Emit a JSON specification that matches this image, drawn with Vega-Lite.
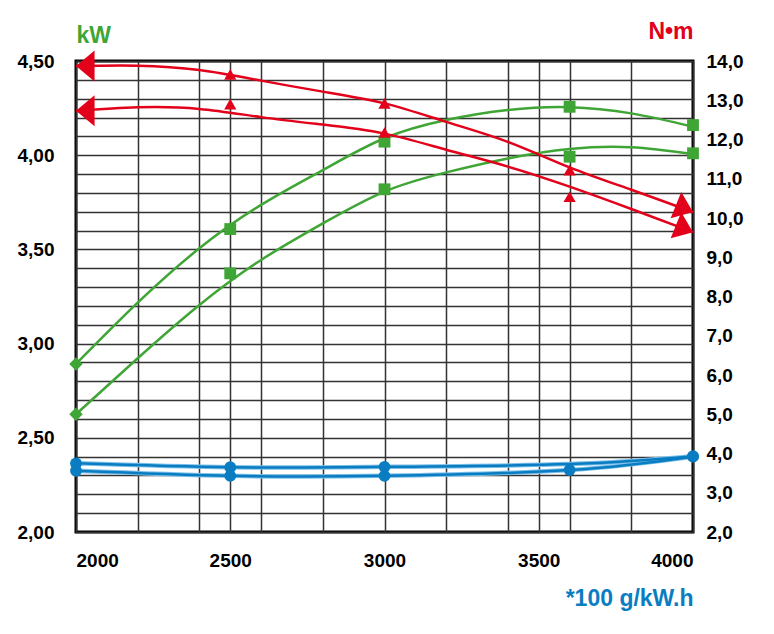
{
  "$schema": "https://vega.github.io/schema/vega-lite/v6.json",
  "width": 617,
  "height": 471,
  "autosize": "none",
  "padding": {"left": 76, "top": 61, "right": 81, "bottom": 102},
  "background": "white",
  "datasets": {
    "power_curve": [
      {"series": "P1", "rpm": 2000, "value": 2.892},
      {"series": "P1", "rpm": 2200, "value": 3.217},
      {"series": "P1", "rpm": 2400, "value": 3.506},
      {"series": "P1", "rpm": 2600, "value": 3.736},
      {"series": "P1", "rpm": 2800, "value": 3.921},
      {"series": "P1", "rpm": 3000, "value": 4.09},
      {"series": "P1", "rpm": 3200, "value": 4.187},
      {"series": "P1", "rpm": 3400, "value": 4.24},
      {"series": "P1", "rpm": 3600, "value": 4.255},
      {"series": "P1", "rpm": 3800, "value": 4.222},
      {"series": "P1", "rpm": 4000, "value": 4.151},
      {"series": "P2", "rpm": 2000, "value": 2.625},
      {"series": "P2", "rpm": 2200, "value": 2.922},
      {"series": "P2", "rpm": 2400, "value": 3.205},
      {"series": "P2", "rpm": 2600, "value": 3.444},
      {"series": "P2", "rpm": 2800, "value": 3.638},
      {"series": "P2", "rpm": 3000, "value": 3.807},
      {"series": "P2", "rpm": 3200, "value": 3.909},
      {"series": "P2", "rpm": 3400, "value": 3.983},
      {"series": "P2", "rpm": 3600, "value": 4.033},
      {"series": "P2", "rpm": 3800, "value": 4.042},
      {"series": "P2", "rpm": 4000, "value": 4.006}
    ],
    "power_points": [
      {"series": "P1", "rpm": 2000, "value": 2.892},
      {"series": "P1", "rpm": 2500, "value": 3.608},
      {"series": "P1", "rpm": 3000, "value": 4.072},
      {"series": "P1", "rpm": 3600, "value": 4.257},
      {"series": "P1", "rpm": 4000, "value": 4.16},
      {"series": "P2", "rpm": 2000, "value": 2.625},
      {"series": "P2", "rpm": 2500, "value": 3.373},
      {"series": "P2", "rpm": 3000, "value": 3.819},
      {"series": "P2", "rpm": 3600, "value": 3.992},
      {"series": "P2", "rpm": 4000, "value": 4.01}
    ],
    "torque_curve": [
      {"series": "T1", "rpm": 2000, "value": 13.87},
      {"series": "T1", "rpm": 2200, "value": 13.88},
      {"series": "T1", "rpm": 2400, "value": 13.77},
      {"series": "T1", "rpm": 2600, "value": 13.5},
      {"series": "T1", "rpm": 2800, "value": 13.22},
      {"series": "T1", "rpm": 3000, "value": 12.92},
      {"series": "T1", "rpm": 3200, "value": 12.45},
      {"series": "T1", "rpm": 3400, "value": 11.94},
      {"series": "T1", "rpm": 3600, "value": 11.29},
      {"series": "T1", "rpm": 3800, "value": 10.72},
      {"series": "T1", "rpm": 4000, "value": 10.15},
      {"series": "T2", "rpm": 2000, "value": 12.73},
      {"series": "T2", "rpm": 2200, "value": 12.82},
      {"series": "T2", "rpm": 2400, "value": 12.78},
      {"series": "T2", "rpm": 2600, "value": 12.57},
      {"series": "T2", "rpm": 2800, "value": 12.38},
      {"series": "T2", "rpm": 3000, "value": 12.15},
      {"series": "T2", "rpm": 3200, "value": 11.74},
      {"series": "T2", "rpm": 3400, "value": 11.31},
      {"series": "T2", "rpm": 3600, "value": 10.8},
      {"series": "T2", "rpm": 3800, "value": 10.23},
      {"series": "T2", "rpm": 4000, "value": 9.64}
    ],
    "torque_points": [
      {"series": "T1", "rpm": 2500, "value": 13.66},
      {"series": "T1", "rpm": 3000, "value": 12.92},
      {"series": "T1", "rpm": 3600, "value": 11.22},
      {"series": "T2", "rpm": 2500, "value": 12.9},
      {"series": "T2", "rpm": 3000, "value": 12.18},
      {"series": "T2", "rpm": 3600, "value": 10.54}
    ],
    "fuel_curve": [
      {"series": "B1", "rpm": 2000, "value": 3.75},
      {"series": "B1", "rpm": 2500, "value": 3.65},
      {"series": "B1", "rpm": 3000, "value": 3.66},
      {"series": "B1", "rpm": 3600, "value": 3.73},
      {"series": "B1", "rpm": 4000, "value": 3.93},
      {"series": "B2", "rpm": 2000, "value": 3.56},
      {"series": "B2", "rpm": 2500, "value": 3.43},
      {"series": "B2", "rpm": 3000, "value": 3.43},
      {"series": "B2", "rpm": 3600, "value": 3.58},
      {"series": "B2", "rpm": 4000, "value": 3.92}
    ],
    "fuel_points": [
      {"series": "B1", "rpm": 2000, "value": 3.75},
      {"series": "B1", "rpm": 2500, "value": 3.65},
      {"series": "B1", "rpm": 3000, "value": 3.66},
      {"series": "B1", "rpm": 4000, "value": 3.93},
      {"series": "B2", "rpm": 2000, "value": 3.56},
      {"series": "B2", "rpm": 2500, "value": 3.43},
      {"series": "B2", "rpm": 3000, "value": 3.43},
      {"series": "B2", "rpm": 3600, "value": 3.58},
      {"series": "B2", "rpm": 4000, "value": 3.92}
    ]
  },
  "encoding": {
    "x": {
      "field": "rpm",
      "type": "quantitative",
      "scale": {"domain": [2000, 4000], "nice": false, "zero": false},
      "axis": {
        "title": "*100 g/kW.h",
        "titleColor": "#0a7dc2",
        "titleAlign": "right",
        "titleBaseline": "alphabetic",
        "titleX": 617,
        "titleY": 73,
        "values": [2000, 2200, 2400, 2500, 2600, 2800, 3000, 3200, 3400, 3500, 3600, 3800, 4000],
        "labelExpr": "datum.value % 500 == 0 ? format(datum.value, 'd') : ''",
        "labelFlush": true,
        "labelOverlap": false,
        "labelPadding": 19,
        "grid": true
      }
    }
  },
  "layer": [
    {
      "encoding": {
        "y": {
          "field": "value",
          "type": "quantitative",
          "scale": {"domain": [2, 4.5], "nice": false, "zero": false},
          "axis": {
            "orient": "left",
            "title": "kW",
            "titleColor": "#3fa535",
            "titleAngle": 0,
            "titleAlign": "left",
            "titleBaseline": "alphabetic",
            "titleX": 0,
            "titleY": -19,
            "values": [2, 2.1, 2.2, 2.3, 2.4, 2.5, 2.6, 2.7, 2.8, 2.9, 3, 3.1, 3.2, 3.3, 3.4, 3.5, 3.6, 3.7, 3.8, 3.9, 4, 4.1, 4.2, 4.3, 4.4, 4.5],
            "labelExpr": "abs(datum.value * 2 - round(datum.value * 2)) < 0.001 ? replace(format(datum.value, '.2f'), '.', ',') : ''",
            "labelOverlap": false,
            "labelPadding": 22,
            "grid": true
          }
        }
      },
      "layer": [
        {
          "data": {"name": "power_curve"},
          "mark": {"type": "line", "interpolate": "natural", "color": "#3fa535", "strokeWidth": 2.5},
          "encoding": {"detail": {"field": "series"}}
        },
        {
          "data": {"name": "power_points"},
          "mark": {"type": "point", "filled": true, "opacity": 1, "color": "#3fa535"},
          "encoding": {
            "shape": {"condition": {"test": "datum.rpm == 2000", "value": "diamond"}, "value": "square"},
            "size": {"condition": {"test": "datum.rpm == 2000", "value": 180}, "value": 140}
          }
        }
      ]
    },
    {
      "encoding": {
        "y": {
          "field": "value",
          "type": "quantitative",
          "scale": {"domain": [2, 14], "nice": false, "zero": false},
          "axis": {
            "orient": "right",
            "title": "N•m",
            "titleColor": "#e2001a",
            "titleAngle": 0,
            "titleAlign": "right",
            "titleBaseline": "alphabetic",
            "titleX": 0,
            "titleY": -23,
            "values": [2, 3, 4, 5, 6, 7, 8, 9, 10, 11, 12, 13, 14],
            "labelExpr": "replace(format(datum.value, '.1f'), '.', ',')",
            "labelOverlap": false,
            "labelPadding": 13,
            "grid": false
          }
        }
      },
      "layer": [
        {
          "data": {"name": "torque_curve"},
          "mark": {"type": "line", "interpolate": "natural", "color": "#e2001a", "strokeWidth": 2.5},
          "encoding": {"detail": {"field": "series"}}
        },
        {
          "data": {"name": "torque_points"},
          "mark": {"type": "point", "filled": true, "opacity": 1, "color": "#e2001a", "shape": "triangle-up", "size": 150}
        },
        {
          "data": {"name": "torque_curve"},
          "transform": [{"filter": "datum.rpm == 2000"}],
          "mark": {"type": "point", "filled": true, "opacity": 1, "color": "#e2001a", "shape": "M0,0L1.2,-1L1.2,1Z", "size": 960}
        },
        {
          "data": {"name": "torque_curve"},
          "transform": [{"filter": "datum.rpm == 4000"}],
          "mark": {"type": "point", "filled": true, "opacity": 1, "color": "#e2001a", "shape": "M0,0L-1.3,-1L-1.3,1Z", "size": 800, "angle": 22}
        },
        {
          "data": {"name": "fuel_curve"},
          "mark": {"type": "line", "interpolate": "natural", "color": "#7cc0ea", "strokeWidth": 4.5},
          "encoding": {"detail": {"field": "series"}}
        },
        {
          "data": {"name": "fuel_curve"},
          "mark": {"type": "line", "interpolate": "natural", "color": "#0a7dc2", "strokeWidth": 2.5},
          "encoding": {"detail": {"field": "series"}}
        },
        {
          "data": {"name": "fuel_points"},
          "mark": {"type": "point", "filled": true, "opacity": 1, "color": "#0a7dc2", "shape": "circle", "size": 140}
        }
      ]
    }
  ],
  "resolve": {"scale": {"y": "independent"}},
  "config": {
    "view": {"stroke": "black", "strokeWidth": 3},
    "axis": {
      "domain": false,
      "ticks": false,
      "gridColor": "#333333",
      "gridWidth": 1.5,
      "gridOpacity": 1,
      "labelFont": "Liberation Sans",
      "labelFontWeight": "bold",
      "labelFontSize": 19,
      "labelColor": "black",
      "titleFont": "Liberation Sans",
      "titleFontWeight": "bold",
      "titleFontSize": 23
    }
  }
}
